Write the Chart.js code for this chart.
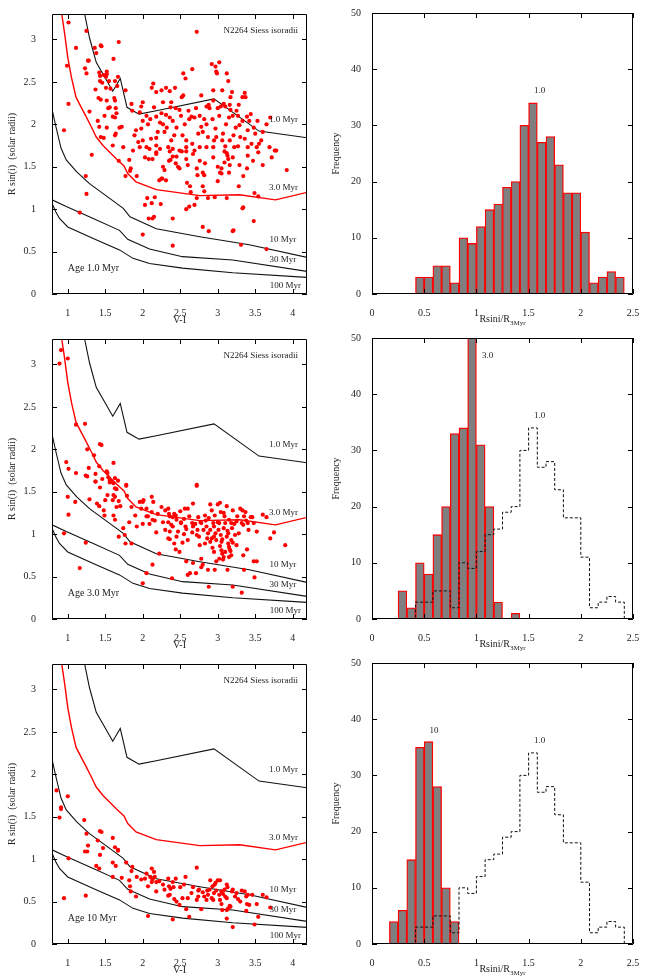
<!DOCTYPE html>
<html lang="en">
<head>
<meta charset="UTF-8">
<title>N2264 Rsini vs V-I</title>
<script src="https://cdn.jsdelivr.net/npm/chart.js"></script>
<style>
    body {
        margin: 0;
        background: #fff;
    }
    #page {
        position: relative;
        width: 651px;
        height: 976px;
        overflow: hidden;
    }
    canvas {
        position: absolute;
    }
</style>
</head>
<body>
<div id="page">
    <canvas id="sc1" width="320" height="325" style="left:0;top:0"></canvas>
    <canvas id="sc3" width="320" height="325" style="left:0;top:325px"></canvas>
    <canvas id="sc10" width="320" height="325" style="left:0;top:650px"></canvas>
    <canvas id="hi1" width="331" height="340" style="left:320px;top:0"></canvas>
    <canvas id="hi3" width="331" height="340" style="left:320px;top:325px"></canvas>
    <canvas id="hi10" width="331" height="340" style="left:320px;top:650px"></canvas>
</div>

<script>
// ---- data ----
const viTicks = [1, 1.5, 2, 2.5, 3, 3.5, 4];
const radiusTicks = [0, 0.5, 1, 1.5, 2, 2.5, 3];
const ratioTicks = [0, 0.5, 1, 1.5, 2, 2.5];
const freqTicks = [0, 10, 20, 30, 40, 50];

// Siess isoradii (V-I, R in solar radii)
const iso1Myr = [[1.225,3.3],[1.29,3.02],[1.38,2.73],[1.60,2.39],[1.70,2.54],[1.79,2.20],[1.95,2.12],[2.18,2.16],[2.95,2.30],[3.55,1.92],[4.2,1.84]];
const iso3Myr = [[0.92,3.3],[0.96,3.06],[1.0,2.79],[1.05,2.55],[1.11,2.32],[1.18,2.20],[1.24,2.10],[1.32,1.96],[1.38,1.85],[1.47,1.75],[1.56,1.67],[1.65,1.59],[1.70,1.55],[1.75,1.51],[1.80,1.42],[1.91,1.32],[2.18,1.23],[2.76,1.16],[3.29,1.17],[3.77,1.11],[4.2,1.20]];
const iso10Myr = [[0.79,2.18],[0.84,1.98],[0.91,1.72],[0.98,1.58],[1.12,1.44],[1.29,1.30],[1.60,1.10],[1.74,1.01],[1.83,0.91],[2.18,0.77],[2.76,0.675],[3.42,0.58],[4.2,0.43]];
const iso30Myr = [[0.79,1.11],[0.98,1.03],[1.34,0.89],[1.69,0.75],[1.80,0.645],[2.09,0.53],[2.53,0.44],[3.2,0.40],[4.2,0.265]];
const iso100Myr = [[0.79,1.07],[0.84,0.97],[0.89,0.89],[1.0,0.79],[1.34,0.655],[1.69,0.52],[1.87,0.42],[2.09,0.36],[2.53,0.305],[3.2,0.25],[4.2,0.195]];

// stars, Rsini assuming age 1.0 Myr
const stars1Myr = [
  [1.01,3.20],[2.72,3.09],[1.25,3.10],[1.11,2.90],[0.99,2.69],[1.01,2.24],[0.95,1.93],
  [1.36,2.90],[1.38,2.84],[1.44,2.93],[1.45,2.92],[1.27,2.75],[1.28,2.75],[1.23,2.66],[1.25,2.60],
  [1.61,2.77],[1.68,2.97],[1.42,2.61],[1.43,2.57],[1.52,2.62],[1.52,2.59],[1.48,2.58],[1.51,2.56],
  [1.43,2.51],[1.46,2.49],[1.51,2.43],[1.55,2.51],[1.57,2.42],[1.63,2.51],[1.66,2.45],[1.67,2.56],
  [1.77,2.40],[1.37,2.41],[1.41,2.31],[1.44,2.29],[1.52,2.28],[1.54,2.19],[1.56,2.20],[1.62,2.31],
  [1.63,2.28],[1.64,2.19],[1.65,2.13],[1.29,2.15],[1.40,2.04],[1.42,1.97],[1.44,1.85],[1.48,1.84],
  [1.49,2.10],[1.52,1.96],[1.60,2.09],[1.63,2.08],[1.69,1.96],[1.72,1.97],[1.60,1.75],[1.63,1.87],
  [1.64,1.89],[1.74,1.73],[1.85,2.24],[1.86,2.16],[1.98,2.21],[2.00,2.26],[1.96,2.14],[2.12,2.43],
  [2.14,2.48],[2.18,2.38],[2.25,2.40],[2.31,2.43],[2.36,2.39],[2.43,2.43],[2.38,2.26],[2.27,2.26],
  [2.52,2.32],[2.54,2.34],[2.54,2.60],[2.57,2.54],[2.66,2.65],[2.78,2.34],[2.85,2.21],[2.88,2.23],
  [2.92,2.71],[2.97,2.68],[2.98,2.62],[3.02,2.73],[2.99,2.60],[2.94,2.40],[3.06,2.40],[3.12,2.60],
  [3.14,2.51],[3.19,2.38],[3.17,2.32],[3.16,2.23],[3.28,2.23],[3.33,2.32],[3.36,2.37],[3.37,2.32],
  [3.39,2.09],[3.44,2.12],[3.60,1.91],[3.65,2.00],[3.70,2.08],[3.52,1.73],[3.55,1.77],[3.69,1.73],[3.76,1.69],
  [1.91,1.93],[1.89,1.87],[1.98,1.95],[2.00,2.04],[2.05,2.10],[2.07,2.00],[2.10,2.06],[2.15,2.20],
  [2.18,2.09],[2.20,1.91],[2.23,2.02],[2.25,2.13],[2.27,2.00],[2.29,1.91],[2.31,2.11],[2.32,1.96],
  [2.36,2.08],[2.37,2.20],[2.38,1.81],[2.40,2.04],[2.42,1.87],[2.44,2.19],[2.45,1.96],[2.49,2.17],
  [2.51,2.10],[2.53,1.87],[2.56,2.00],[2.58,1.81],[2.61,2.16],[2.62,2.06],[2.65,2.09],[2.66,1.77],
  [2.69,2.08],[2.71,2.19],[2.74,1.89],[2.76,2.10],[2.78,1.97],[2.80,1.91],[2.82,2.06],[2.85,2.00],
  [2.87,1.85],[2.89,2.19],[2.93,2.06],[2.94,2.28],[2.95,1.81],[2.97,1.95],[2.98,1.85],[3.00,2.19],
  [3.02,2.10],[3.04,2.21],[3.06,1.81],[3.07,1.89],[3.08,2.24],[3.10,2.21],[3.11,2.00],[3.15,2.08],
  [3.17,2.17],[3.20,2.10],[3.21,1.87],[3.24,1.96],[3.25,2.16],[3.27,2.10],[3.29,1.99],[3.30,1.85],
  [3.33,2.04],[3.36,1.83],[3.40,1.93],[3.42,2.04],[3.45,1.77],[3.48,1.96],[3.50,1.89],[3.53,2.04],
  [3.58,1.81],[3.40,1.73],[3.16,1.81],[3.27,1.74],[3.22,1.73],[3.10,1.74],[2.94,1.73],[2.85,1.73],
  [2.76,1.73],[2.69,1.69],[2.58,1.73],[2.49,1.69],[2.40,1.71],[2.34,1.73],[2.23,1.71],[2.18,1.75],
  [2.09,1.71],[2.05,1.73],[1.96,1.73],[1.87,1.69],[2.11,1.83],[2.18,1.84],[2.00,1.81],[1.94,1.79],
  [1.16,0.96],[1.24,1.39],[1.25,1.18],[1.32,1.64],[1.68,1.57],[1.77,1.39],[1.82,1.58],[1.84,1.48],
  [1.83,1.45],[1.92,1.39],[2.00,0.70],[2.03,1.05],[2.06,1.13],[2.08,0.89],[2.12,1.07],[2.13,0.89],
  [2.15,0.91],[2.16,1.14],[2.22,1.34],[2.25,1.36],[2.26,1.36],[2.24,1.06],[2.18,1.65],[2.13,1.59],
  [2.29,1.46],[2.31,1.34],[2.35,1.57],[2.37,1.58],[2.40,0.89],[2.40,0.57],[2.40,1.62],[2.44,1.54],
  [2.47,1.50],[2.49,1.48],[2.52,1.68],[2.58,1.59],[2.59,1.31],[2.60,1.52],[2.62,1.03],[2.58,1.00],
  [2.63,1.27],[2.64,1.20],[2.69,1.05],[2.72,1.48],[2.73,1.40],[2.72,1.13],[2.80,1.43],[2.82,1.40],
  [2.80,1.27],[2.82,1.21],[2.80,0.79],[2.87,1.13],[2.88,0.74],[2.96,1.14],[3.00,1.33],[3.03,1.43],
  [3.05,1.42],[3.05,1.48],[3.09,1.68],[3.12,1.66],[3.13,1.63],[3.09,1.55],[3.14,1.59],[3.16,1.52],
  [3.15,1.43],[3.12,1.13],[3.20,0.74],[3.21,0.75],[3.28,1.27],[3.31,0.58],[3.33,1.01],[3.34,1.02],
  [3.34,1.39],[3.39,1.48],[3.48,0.86],[3.49,1.19],[3.54,1.15],[3.60,1.52],[3.65,0.53],[3.72,1.61],
  [3.78,1.69],[3.92,1.46],[2.03,1.61],[2.08,1.59],[2.18,1.67],[2.27,1.50],[2.36,1.68],[2.45,1.62],
  [2.58,1.68],[2.67,1.65],[2.76,1.57],[2.83,1.54],[2.94,1.61],[3.00,1.50],[3.20,1.61],[3.29,1.52],
  [3.40,1.63],[3.47,1.57],[3.54,1.67]
];

// stars, Rsini assuming age 3.0 Myr
const stars3Myr = [
  [0.91,3.17],[0.89,3.01],[1.00,3.07],[1.11,2.29],[1.23,2.30],[0.98,1.85],[1.01,1.77],[1.11,1.72],
  [1.24,1.69],[1.26,1.68],[1.26,2.00],[1.28,1.78],[1.35,1.93],[1.43,2.06],[1.45,2.05],[1.37,1.71],
  [1.42,1.80],[1.37,1.62],[1.46,1.65],[1.52,1.74],[1.53,1.72],[1.61,1.84],[1.54,1.67],[1.63,1.66],
  [1.67,1.63],[1.56,1.63],[1.78,1.58],[2.72,1.58],
  [1.00,1.44],[1.01,1.23],[0.95,1.01],[1.10,1.38],[1.16,0.60],[1.24,0.90],[1.29,1.41],[1.37,1.62],
  [1.39,1.36],[1.43,1.55],[1.42,1.33],[1.48,1.28],[1.49,1.22],[1.50,1.40],[1.53,1.46],[1.56,1.61],
  [1.58,1.62],[1.61,1.60],[1.60,1.40],[1.61,1.46],[1.63,1.44],[1.63,1.54],[1.65,1.53],[1.65,1.32],
  [1.61,1.22],[1.63,1.17],[1.68,1.39],[1.70,1.33],[1.68,0.97],[1.74,1.07],[1.76,0.99],[1.78,1.57],
  [1.79,1.45],[1.85,1.32],[1.82,1.14],[1.77,0.89],[1.85,0.89],[1.90,1.22],[1.96,1.38],[1.98,1.30],
  [2.00,1.38],[2.01,1.40],[1.92,1.09],[2.00,1.12],[2.00,0.42],[2.05,1.30],[2.05,1.21],[2.07,1.21],
  [2.05,0.54],[2.12,1.44],[2.12,1.26],[2.13,0.64],[2.14,1.38],[2.16,1.16],[2.18,1.02],[2.13,1.17],
  [2.09,1.12],[2.22,0.77],[2.27,1.14],[2.30,1.05],[2.34,1.30],[2.35,1.24],[2.36,1.21],[2.34,1.14],
  [2.34,0.95],[2.36,0.94],[2.38,1.11],[2.40,1.09],[2.39,0.48],[2.42,1.24],[2.44,1.22],[2.42,0.89],
  [2.44,0.82],[2.47,1.03],[2.49,0.79],[2.51,1.14],[2.51,1.13],[2.53,0.90],[2.56,1.30],[2.57,1.09],
  [2.60,0.93],[2.58,0.68],[2.60,0.52],[2.63,0.54],[2.66,1.13],[2.67,1.09],[2.67,1.36],[2.67,0.66],
  [2.72,1.57],[2.71,0.54],[2.73,1.05],[2.75,0.97],[2.74,1.20],[2.76,0.87],[2.77,1.14],[2.78,1.13],
  [2.78,0.71],[2.80,0.64],[2.78,0.61],[2.81,1.05],[2.84,1.16],[2.85,1.09],[2.87,1.01],[2.87,0.58],
  [2.88,0.38],[2.90,1.35],[2.92,1.28],[2.90,1.05],[2.92,0.95],[2.90,0.91],[2.94,1.13],[2.95,1.09],
  [2.95,0.79],[2.96,0.58],[2.97,1.01],[2.98,0.93],[2.98,0.68],[3.00,1.35],[3.03,1.37],[3.04,1.26],
  [3.00,1.14],[3.02,1.13],[3.02,0.71],[3.04,0.99],[3.05,0.91],[3.06,0.94],[3.05,0.81],[3.06,0.77],
  [3.08,0.73],[3.07,0.70],[3.09,1.21],[3.10,1.13],[3.12,1.33],[3.13,1.04],[3.14,1.01],[3.14,0.89],
  [3.15,0.85],[3.16,0.82],[3.17,0.80],[3.13,0.58],[3.15,0.73],[3.18,0.75],[3.18,1.13],[3.19,1.07],
  [3.20,1.28],[3.20,0.38],[3.23,0.99],[3.26,1.21],[3.28,1.01],[3.30,1.30],[3.33,1.28],[3.32,1.13],
  [3.34,1.11],[3.32,0.31],[3.34,0.75],[3.35,0.58],[3.37,1.26],[3.38,1.16],[3.39,0.82],[3.41,1.05],
  [3.44,1.20],[3.46,1.20],[3.48,1.13],[3.48,0.68],[3.49,0.49],[3.52,1.03],[3.52,0.68],[3.60,1.23],
  [3.65,1.20],[3.70,0.95],[3.75,1.02],[3.90,0.87],
  [2.45,1.17],[2.55,1.18],[2.62,1.21],[2.70,1.12],[2.83,1.22],[2.88,1.19],[2.96,1.22],[3.08,1.25],
  [3.15,1.17],[3.22,1.12],[3.25,1.15],[3.35,1.21],[3.40,1.13],[2.58,1.06],[2.66,1.02],[2.72,0.99],
  [2.86,0.95],[2.95,0.97],[3.01,1.05],[3.08,1.07],[3.12,0.97],[3.18,0.93],[3.25,0.87],[3.03,0.86],
  [2.93,0.84],[2.83,0.89],[3.10,0.79],[3.20,0.90],[2.40,1.20],[2.30,1.28],[2.20,1.24],[2.25,1.32],
  [2.50,1.27],[2.60,1.30],[2.36,1.03],[2.45,0.97],[2.55,1.00]
];

// stars, Rsini assuming age 10 Myr
const stars10Myr = [
  [0.85,1.81],[1.00,1.74],[0.91,1.59],[0.91,1.61],[0.89,1.49],[0.95,0.54],[1.01,1.01],[1.22,1.46],
  [1.23,1.09],[1.26,1.09],[1.25,1.30],[1.27,1.16],[1.24,0.57],[1.43,1.33],[1.45,1.32],[1.40,1.22],
  [1.43,1.05],[1.47,1.13],[1.38,0.92],[1.42,0.89],[1.60,1.25],[1.63,1.14],[1.67,1.11],[1.67,1.10],
  [1.60,0.96],[1.64,0.92],[1.60,0.79],[1.72,0.78],[1.78,0.96],[1.82,0.75],[1.83,0.68],[1.84,0.62],
  [1.85,0.86],[1.86,0.91],[1.91,0.56],[1.92,0.79],[1.98,0.76],[2.03,0.77],[2.05,0.83],[2.07,0.68],
  [2.07,0.33],[2.12,0.89],[2.15,0.85],[2.12,0.73],[2.13,0.76],[2.16,0.79],[2.18,0.62],[2.18,0.73],
  [2.27,0.70],[2.29,0.64],[2.34,0.77],[2.35,0.68],[2.37,0.65],[2.34,0.57],[2.36,0.58],[2.40,0.73],
  [2.41,0.67],[2.40,0.29],[2.42,0.53],[2.45,0.50],[2.44,0.77],[2.50,0.67],[2.49,0.46],[2.53,0.54],
  [2.57,0.79],[2.58,0.41],[2.60,0.54],[2.62,0.32],[2.67,0.67],[2.72,0.90],[2.74,0.63],[2.75,0.64],
  [2.72,0.52],[2.74,0.56],[2.78,0.41],[2.80,0.61],[2.82,0.56],[2.85,0.52],[2.87,0.58],[2.86,0.63],
  [2.89,0.64],[2.90,0.75],[2.93,0.68],[2.92,0.54],[2.94,0.52],[2.96,0.70],[2.97,0.72],[2.98,0.63],
  [3.00,0.75],[3.03,0.75],[3.03,0.52],[3.05,0.47],[3.05,0.62],[3.07,0.59],[3.06,0.40],[3.09,0.64],
  [3.12,0.70],[3.13,0.67],[3.10,0.56],[3.12,0.54],[3.12,0.40],[3.14,0.42],[3.12,0.30],[3.16,0.45],
  [3.17,0.44],[3.19,0.62],[3.20,0.64],[3.20,0.20],[3.23,0.56],[3.27,0.53],[3.32,0.63],[3.36,0.62],
  [3.38,0.56],[3.40,0.58],[3.39,0.47],[3.42,0.46],[3.38,0.39],[3.46,0.58],[3.49,0.23],[3.52,0.47],
  [3.54,0.32],[3.60,0.58],[3.65,0.55],[3.70,0.43],[2.10,0.79],[2.22,0.74],[2.55,0.70],[2.65,0.60],
  [2.95,0.60],[3.02,0.58],[3.25,0.60],[3.30,0.50]
];

// histograms of Rsini / R(3 Myr), bins of 1/12
const binWidth = 1 / 12;
const hist1Start = 5 / 12;
const hist1Counts = [3, 3, 5, 5, 2, 10, 9, 12, 15, 16, 19, 20, 30, 34, 27, 28, 23, 18, 18, 11, 2, 3, 4, 3];
const hist3Start = 3 / 12;
const hist3Counts = [5, 2, 10, 8, 15, 20, 33, 34, 55, 31, 20, 3, 0, 1];
const hist10Start = 2 / 12;
const hist10Counts = [4, 6, 15, 35, 36, 28, 10, 4];

// ---- drawing ----
const FONT = "'Liberation Serif', 'Times New Roman', serif";
const INK = '#222';

// gnuplot-like box with inward ticks, plus text notes in data coordinates
const frame = {
    id: 'frame',
    afterDatasetsDraw(chart, args, opts) {
        const { ctx, chartArea: a } = chart;
        const xs = chart.scales.x, ys = chart.scales.y;
        ctx.save();
        ctx.strokeStyle = '#000';
        ctx.lineWidth = 1;
        ctx.setLineDash([]);
        ctx.beginPath();
        ctx.rect(Math.round(a.left) + 0.5, Math.round(a.top) + 0.5, Math.round(a.width) - 1, Math.round(a.height) - 1);
        xs.ticks.forEach(t => {
            const px = Math.round(xs.getPixelForValue(t.value)) + 0.5;
            ctx.moveTo(px, a.bottom); ctx.lineTo(px, a.bottom - 5);
            ctx.moveTo(px, a.top); ctx.lineTo(px, a.top + 5);
        });
        ys.ticks.forEach(t => {
            const py = Math.round(ys.getPixelForValue(t.value)) + 0.5;
            ctx.moveTo(a.left, py); ctx.lineTo(a.left + 5, py);
            ctx.moveTo(a.right, py); ctx.lineTo(a.right - 5, py);
        });
        ctx.stroke();

        ctx.fillStyle = INK;
        ctx.textBaseline = 'middle';
        (opts.notes || []).forEach(n => {
            ctx.font = (n.size || 9) + 'px ' + FONT;
            ctx.textAlign = n.align || 'center';
            ctx.fillText(n.text, xs.getPixelForValue(n.x), ys.getPixelForValue(n.y));
        });

        if (opts.ratioTitle) {
            const main = 'Rsini/R', sub = '3Myr';
            ctx.textBaseline = 'alphabetic';
            ctx.textAlign = 'left';
            ctx.font = '10px ' + FONT;
            const w1 = ctx.measureText(main).width;
            ctx.font = '7px ' + FONT;
            const w2 = ctx.measureText(sub).width;
            const x0 = (a.left + a.right) / 2 - (w1 + w2) / 2;
            const y0 = a.bottom + 28;
            ctx.font = '10px ' + FONT;
            ctx.fillText(main, x0, y0);
            ctx.font = '7px ' + FONT;
            ctx.fillText(sub, x0 + w1, y0 + 3);
        }
        ctx.restore();
    }
};

function fixedTicks(list) {
    return scale => { scale.ticks = list.map(v => ({ value: v })); };
}

function tickStyle(pad) {
    return {
        font: { family: FONT, size: 10 },
        color: INK,
        padding: pad,
        maxRotation: 0,
        autoSkip: false,
        callback: v => String(v)
    };
}

function isoLine(points, color, width) {
    return {
        data: points.map(p => ({ x: p[0], y: p[1] })),
        showLine: true,
        borderColor: color,
        borderWidth: width,
        pointRadius: 0,
        fill: false
    };
}

function starChart(id, stars, ageText) {
    new Chart(document.getElementById(id), {
        type: 'scatter',
        data: {
            datasets: [
                {
                    data: stars.map(p => ({ x: p[0], y: p[1] })),
                    pointRadius: 2.1,
                    pointBorderWidth: 0,
                    pointBackgroundColor: '#ff0000'
                },
                isoLine(iso1Myr, '#111', 1.1),
                isoLine(iso3Myr, '#ff0000', 1.4),
                isoLine(iso10Myr, '#111', 1.1),
                isoLine(iso30Myr, '#111', 1.1),
                isoLine(iso100Myr, '#111', 1.1)
            ]
        },
        options: {
            responsive: false,
            animation: false,
            events: [],
            layout: { padding: { top: 13, right: 13, bottom: 0, left: 0 } },
            plugins: {
                legend: { display: false },
                tooltip: { enabled: false },
                frame: {
                    notes: [
                        { text: 'N2264 Siess isoradii', x: 4.07, y: 3.10, align: 'right' },
                        { text: '1.0 Myr', x: 4.07, y: 2.05, align: 'right' },
                        { text: '3.0 Myr', x: 4.07, y: 1.25, align: 'right' },
                        { text: '10 Myr', x: 4.045, y: 0.645, align: 'right' },
                        { text: '30 Myr', x: 4.045, y: 0.40, align: 'right' },
                        { text: '100 Myr', x: 4.11, y: 0.10, align: 'right' },
                        { text: ageText, x: 1.0, y: 0.30, align: 'left', size: 10 }
                    ]
                }
            },
            scales: {
                x: {
                    type: 'linear', min: 0.79, max: 4.19,
                    afterBuildTicks: fixedTicks(viTicks),
                    afterFit: s => { s.height = 31; },
                    grid: { display: false }, border: { display: false },
                    ticks: tickStyle(5),
                    title: { display: true, text: 'V-I', color: INK, font: { family: FONT, size: 10, lineHeight: 1 }, padding: 0 }
                },
                y: {
                    type: 'linear', min: 0, max: 3.3,
                    afterBuildTicks: fixedTicks(radiusTicks),
                    afterFit: s => { s.width = 52; },
                    grid: { display: false }, border: { display: false },
                    ticks: tickStyle(8),
                    title: { display: true, text: 'R sin(i)  (solar radii)', color: INK, font: { family: FONT, size: 10, lineHeight: 1 }, padding: { top: 7, bottom: 0 } }
                }
            }
        },
        plugins: [frame]
    });
}

function stepOutline(counts, start) {
    const pts = [{ x: 0, y: 0 }];
    counts.forEach((c, i) => pts.push({ x: start + i * binWidth, y: c }));
    pts.push({ x: start + counts.length * binWidth, y: 0 });
    return pts;
}

function histChart(id, counts, start, notes, withRef) {
    const datasets = [{
        type: 'bar',
        data: counts.map((c, i) => ({ x: start + (i + 0.5) * binWidth, y: c })),
        backgroundColor: '#7f7f7f',
        borderColor: '#ff0000',
        borderWidth: 1.3,
        borderSkipped: false,
        barPercentage: 1,
        categoryPercentage: 1,
        clip: 0,
        order: 2
    }];
    if (withRef) {
        datasets.push({
            type: 'line',
            data: stepOutline(hist1Counts, hist1Start),
            stepped: 'before',
            borderColor: '#111',
            borderWidth: 1,
            borderDash: [3, 2],
            pointRadius: 0,
            fill: false,
            order: 1
        });
    }
    new Chart(document.getElementById(id), {
        type: 'bar',
        data: { datasets: datasets },
        options: {
            responsive: false,
            animation: false,
            events: [],
            layout: { padding: { top: 13, right: 18, bottom: 0, left: 0 } },
            plugins: {
                legend: { display: false },
                tooltip: { enabled: false },
                frame: { notes: notes, ratioTitle: true }
            },
            scales: {
                x: {
                    type: 'linear', min: 0, max: 2.5, offset: false,
                    afterBuildTicks: fixedTicks(ratioTicks),
                    afterFit: s => { s.height = 46; },
                    grid: { display: false, offset: false }, border: { display: false },
                    ticks: tickStyle(5)
                },
                y: {
                    type: 'linear', min: 0, max: 50,
                    afterBuildTicks: fixedTicks(freqTicks),
                    afterFit: s => { s.width = 52; },
                    grid: { display: false }, border: { display: false },
                    ticks: tickStyle(3),
                    title: { display: true, text: 'Frequency', color: INK, font: { family: FONT, size: 10, lineHeight: 1 }, padding: { top: 11, bottom: 0 } }
                }
            }
        },
        plugins: [frame]
    });
}

const refNote = { text: '1.0', x: 1.606, y: 36.1 };

starChart('sc1', stars1Myr, 'Age 1.0 Myr');
starChart('sc3', stars3Myr, 'Age 3.0 Myr');
starChart('sc10', stars10Myr, 'Age 10 Myr');

histChart('hi1', hist1Counts, hist1Start, [refNote], false);
histChart('hi3', hist3Counts, hist3Start, [{ text: '3.0', x: 1.108, y: 46.9 }, refNote], true);
histChart('hi10', hist10Counts, hist10Start, [{ text: '10', x: 0.594, y: 38.0 }, refNote], true);
</script>
</body>
</html>
